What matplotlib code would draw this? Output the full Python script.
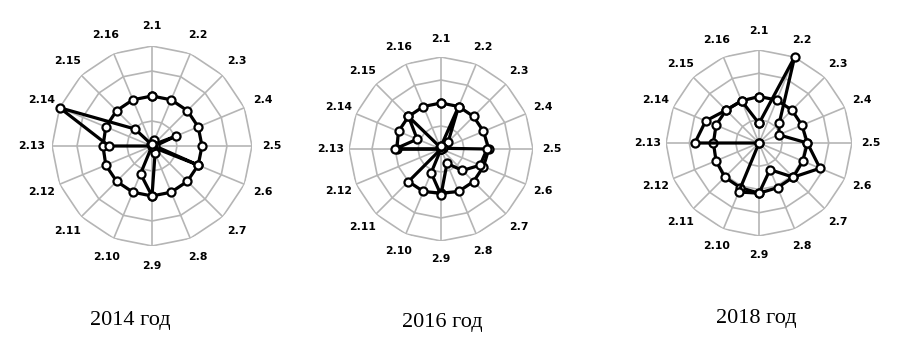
import numpy as np
import matplotlib
matplotlib.use("Agg")
import matplotlib.pyplot as plt

labels = ["2.1", "2.2", "2.3", "2.4", "2.5", "2.6", "2.7", "2.8",
          "2.9", "2.10", "2.11", "2.12", "2.13", "2.14", "2.15", "2.16"]
years = ["2014 год", "2016 год", "2018 год"]

# reference ring (first series) and actual values (second series), scale 0..1
ring_2014 = [0.5, 0.5, 0.5, 0.5, 0.5, 0.5, 0.5, 0.5,
             0.5, 0.5, 0.5, 0.5, 0.49, 0.5, 0.5, 0.5]
vals_2014 = [0.02, 0.06, 0.02, 0.26, 0.03, 0.5, 0.02, 0.08,
             0.5, 0.3, 0.0, 0.0, 0.43, 1.0, 0.24, 0.02]

ring_2016 = [0.5, 0.5, 0.5, 0.5, 0.52, 0.5, 0.5, 0.5,
             0.48, 0.5, 0.5, 0.0, 0.48, 0.5, 0.5, 0.5]
vals_2016 = [0.03, 0.5, 0.11, 0.02, 0.5, 0.46, 0.33, 0.17,
             0.5, 0.28, 0.0, 0.0, 0.5, 0.28, 0.5, 0.02]

ring_2018 = [0.5, 0.5, 0.5, 0.5, 0.52, 0.51, 0.52, 0.52,
             0.54, 0.52, 0.52, 0.5, 0.49, 0.5, 0.5, 0.49]
vals_2018 = [0.21, 1.0, 0.31, 0.23, 0.52, 0.71, 0.52, 0.31,
             0.54, 0.57, 0.0, 0.0, 0.69, 0.62, 0.5, 0.49]

charts = [(ring_2014, vals_2014), (ring_2016, vals_2016), (ring_2018, vals_2018)]

# centre x, centre y (pixels from top), radius
places = [(152, 146, 100), (441, 149, 92), (759, 143, 93)]
year_pos = [(130, 320), (442, 322), (756, 318)]

W, H = 900, 345
fig = plt.figure(figsize=(W / 100, H / 100), dpi=100)
fig.patch.set_facecolor("white")

n = len(labels)
theta = np.linspace(0, 2 * np.pi, n, endpoint=False)
th_closed = np.append(theta, theta[0])

for (ring, vals), (cx, cy, R) in zip(charts, places):
    ax = fig.add_axes([(cx - R) / W, (H - cy - R) / H, 2 * R / W, 2 * R / H],
                      projection="polar")
    ax.set_theta_zero_location("N")
    ax.set_theta_direction(-1)
    ax.set_ylim(0, 1)
    ax.grid(False)
    ax.set_xticks([])
    ax.set_yticks([])
    ax.spines["polar"].set_visible(False)
    ax.patch.set_alpha(0)

    # polygon grid
    for r in [0.25, 0.5, 0.75, 1.0]:
        ax.plot(th_closed, [r] * (n + 1), color="#b5b5b5", lw=1.2, zorder=1)
    for t in theta:
        ax.plot([t, t], [0, 1], color="#b5b5b5", lw=1.2, zorder=1)

    for series in (ring, vals):
        v = np.append(series, series[0])
        ax.plot(th_closed, v, color="black", lw=2.3, marker="o", ms=5.8,
                mfc="white", mec="black", mew=1.6, zorder=3, clip_on=False)

    for t, lab in zip(theta, labels):
        ax.text(t, 1.2, lab, ha="center", va="center", fontsize=7.8,
                fontweight="bold", family="DejaVu Sans", clip_on=False)

for (x, y), txt in zip(year_pos, years):
    fig.text(x / W, 1 - y / H, txt, ha="center", va="center", fontsize=16,
             family="Liberation Serif")

fig.savefig("out.png", dpi=100, facecolor="white")
